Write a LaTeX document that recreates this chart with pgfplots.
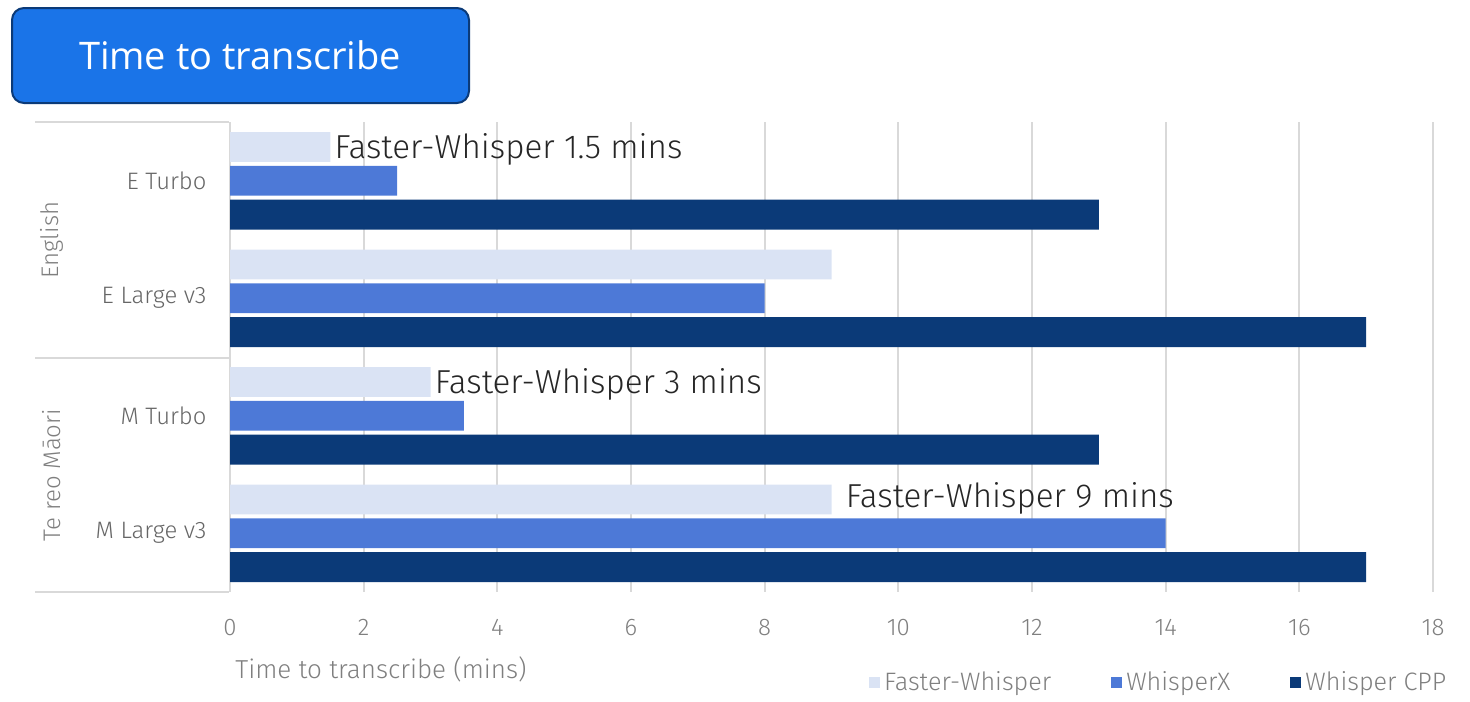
\documentclass[border=0pt]{standalone}
\usepackage{pgfplots}
\pgfplotsset{compat=1.18}
\usepackage{fontspec}
\setmainfont{Fira Sans}[UprightFont={* Light}]
\newfontfamily\titlefont{Open Sans}
\definecolor{fwc}{HTML}{DAE3F4}
\definecolor{wxc}{HTML}{4D79D7}
\definecolor{cppc}{HTML}{0B3A78}
\definecolor{titleblue}{HTML}{1A74E8}
\definecolor{titleedge}{HTML}{0B3A78}
\definecolor{gridc}{HTML}{D9D9D9}
\definecolor{labc}{HTML}{666666}
\definecolor{tickc}{HTML}{7F7F7F}
\begin{document}
\begin{tikzpicture}
\begin{scope}[x=0.5pt,y=-0.5pt]
\path[use as bounding box] (0,0) rectangle (1470,697);
\draw[fill=titleblue, draw=titleedge, line width=1pt, rounded corners=6pt] (12,8) rectangle (469,103);
\node[text=white, font=\titlefont\fontsize{19}{22}\selectfont] at (240,55) {Time to transcribe};
\draw[gridc, line width=1pt] (35,122) -- (229,122);
\draw[gridc, line width=1pt] (35,358) -- (229,358);
\draw[gridc, line width=1pt] (35,592) -- (229,592);
\node[rotate=90, text=tickc, font=\fontsize{12}{14}\selectfont] at (52,240) {English};
\node[rotate=90, text=tickc, font=\fontsize{12}{14}\selectfont] at (52,475) {Te reo Māori};
\node[anchor=west, inner sep=0pt, text=tickc, font=\fontsize{13}{15}\selectfont] at (235,669) {Time to transcribe (mins)};
\end{scope}
\begin{axis}[
  at={(115pt,-296pt)}, anchor=south west,
  scale only axis, width=601.5pt, height=235pt,
  xbar, bar width=0.254,
  xmin=0, xmax=18, ymin=-0.5, ymax=3.5, y dir=reverse,
  xtick={0,2,...,18},
  ytick={0,1,2,3},
  yticklabels={E Turbo, E Large v3, M Turbo, M Large v3},
  axis lines*=left,
  x axis line style={draw=none},
  y axis line style={draw=gridc, line width=1pt},
  tick style={draw=none},
  xmajorgrids, major grid style={draw=gridc, line width=1pt},
  xticklabel style={text=tickc, font=\fontsize{12}{14}\selectfont, yshift=-10pt},
  yticklabel style={text=labc, font=\fontsize{11.9}{14}\selectfont, xshift=-4pt},
  /pgf/number format/assume math mode=true,
  legend image code/.code={\fill[#1] (0pt,-2.75pt) rectangle (5.5pt,2.75pt);},
  legend style={at={(axis description cs:0.526,-0.1915)}, anchor=west, draw=none, fill=none,
    legend columns=3, font=\fontsize{12.6}{14}\selectfont, text=tickc,
    /tikz/every even column/.append style={column sep=28pt}},
  clip=false,
]
\addplot[fill=fwc, draw=none, bar shift=-0.288] coordinates {(1.5,0) (9,1) (3,2) (9,3)};
\addplot[fill=wxc, draw=none, bar shift=0] coordinates {(2.5,0) (8,1) (3.5,2) (14,3)};
\addplot[fill=cppc, draw=none, bar shift=0.288] coordinates {(13,0) (17,1) (13,2) (17,3)};
\legend{Faster-Whisper, WhisperX, Whisper CPP}
\node[anchor=west, inner sep=2pt, text=black!85, font=\fontsize{16.6}{19}\selectfont, yshift=-1pt] at (axis cs:1.5,-0.288) {Faster-Whisper 1.5 mins};
\node[anchor=west, inner sep=2pt, text=black!85, font=\fontsize{16.6}{19}\selectfont, yshift=-1pt] at (axis cs:3,1.712) {Faster-Whisper 3 mins};
\node[anchor=west, inner sep=2pt, text=black!85, font=\fontsize{16.6}{19}\selectfont, xshift=5pt, yshift=0.5pt] at (axis cs:9,2.712) {Faster-Whisper 9 mins};
\end{axis}
\end{tikzpicture}
\end{document}
